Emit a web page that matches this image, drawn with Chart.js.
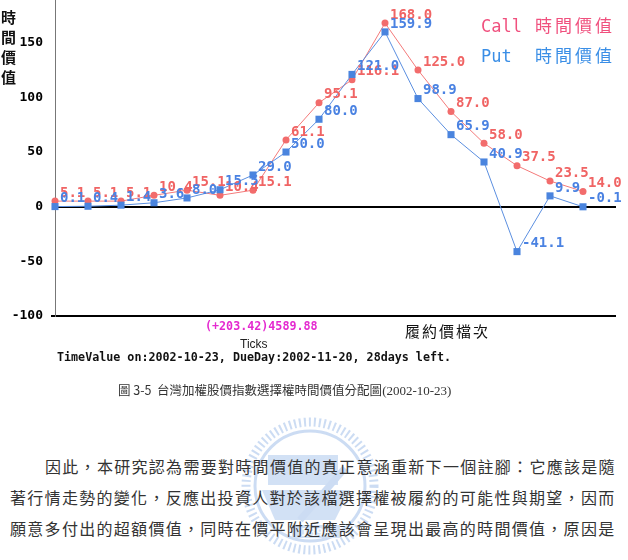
<!DOCTYPE html>
<html lang="zh-Hant">
<head>
    <meta charset="UTF-8">
    <title>時間價值分配圖</title>
    <script src="https://cdn.jsdelivr.net/npm/chart.js"></script>
    <style>
        body { margin: 0; background: #fff; width: 628px; height: 560px; position: relative; overflow: hidden; font-family: "Noto Sans CJK TC", "DejaVu Sans", sans-serif; }
        .abs { position: absolute; white-space: nowrap; line-height: 1; }
        #chartBox { position: absolute; left: 0; top: -6px; width: 628px; height: 327px; }
        .mono { font-family: "DejaVu Sans Mono", monospace; font-weight: bold; }
        .para { font-size: 16px; letter-spacing: 1.3px; color: #333; }
    </style>
</head>
<body>
    <svg class="abs" style="left:0;top:0" width="628" height="560">
        <g opacity="0.45" fill="none" stroke="#8fb3e6">
            <circle cx="310" cy="486" r="64" stroke-width="9" stroke-dasharray="2 3"/>
            <circle cx="310" cy="486" r="55" stroke-width="3"/>
            <rect x="268" y="455" width="70" height="30" fill="#9dbde9" stroke="none"/>
            <path d="M262 490 L350 490 L335 520 L275 520 Z" fill="#9dbde9" stroke="none"/>
            <path d="M300 520 L345 468" stroke-width="7"/>
            <rect x="292" y="525" width="48" height="13" fill="#9dbde9" stroke="none"/>
        </g>
        <text x="316" y="536" font-family="DejaVu Sans" font-weight="bold" font-size="11" fill="#fff" text-anchor="middle" opacity="0.9">1896</text>
    </svg>

    <div id="chartBox"><canvas id="tvChart"></canvas></div>

    <div class="abs" style="left:1px;top:7px;font-size:15px;line-height:20px;white-space:normal;width:16px;color:#111;font-weight:bold">時間價值</div>

    <div class="abs" style="left:481px;top:16px;font-size:17px;color:#f0507e"><span style="font-family:'DejaVu Sans Mono',monospace">Call</span><span style="margin-left:13px;letter-spacing:3px">時間價值</span></div>
    <div class="abs" style="left:481px;top:46px;font-size:17px;color:#3a8ee6"><span style="font-family:'DejaVu Sans Mono',monospace">Put </span><span style="margin-left:13px;letter-spacing:3px">時間價值</span></div>

    <div class="abs mono" style="left:205px;top:321px;font-size:11.7px;color:#e42ad0">(+203.42)4589.88</div>
    <div class="abs" style="left:240px;top:338px;font-size:12px;font-family:'Liberation Sans',sans-serif;color:#222">Ticks</div>
    <div class="abs" style="left:405px;top:323px;font-size:15px;letter-spacing:2px;color:#111">履約價檔次</div>
    <div class="abs mono" style="left:57px;top:352px;font-size:11.7px;color:#111">TimeValue on:2002-10-23, DueDay:2002-11-20, 28days left.</div>

    <div class="abs" style="left:118px;top:384px;font-size:12.5px;color:#333">圖 3-5&nbsp; 台灣加權股價指數選擇權時間價值分配圖<span style="font-family:'Liberation Serif',serif;font-size:13px">(2002-10-23)</span></div>

    <div class="abs para" style="left:45px;top:458px">因此，本研究認為需要對時間價值的真正意涵重新下一個註腳：它應該是隨</div>
    <div class="abs para" style="left:10px;top:489px">著行情走勢的變化，反應出投資人對於該檔選擇權被履約的可能性與期望，因而</div>
    <div class="abs para" style="left:10px;top:520px">願意多付出的超額價值，同時在價平附近應該會呈現出最高的時間價值，原因是</div>

    <script>
        // strike steps (hidden on the axis), last one is just room on the right
        const strikeSteps = ['1','2','3','4','5','6','7','8','9','10','11','12','13','14','15','16','17','18'];
        const callValues = [5.1, 5.1, 5.1, 10.4, 15.1, 10.4, 15.1, 61.1, 95.1, 116.1, 168.0, 125.0, 87.0, 58.0, 37.5, 23.5, 14.0, null];
        const putValues  = [0.1, 0.4, 1.4, 3.6, 8.0, 15.5, 29.0, 50.0, 80.0, 121.0, 159.9, 98.9, 65.9, 40.9, -41.1, 9.9, -0.1, null];
        const yTicks = [-100, -50, 0, 50, 100, 150];

        const callColor = '#f26c6c';
        const putColor = '#4a84de';

        // value labels next to each point
        const pointLabels = {
            id: 'pointLabels',
            afterDatasetsDraw(chart) {
                const ctx = chart.ctx;
                ctx.save();
                ctx.font = 'bold 14px "DejaVu Sans Mono", monospace';
                ctx.textAlign = 'left';
                ctx.textBaseline = 'middle';
                [1, 0].forEach(function(di) {
                    const ds = chart.data.datasets[di];
                    const meta = chart.getDatasetMeta(di);
                    ctx.fillStyle = ds.labelColor;
                    meta.data.forEach(function(pt, i) {
                        const v = ds.data[i];
                        if (v === null) return;
                        ctx.fillText(v.toFixed(1), pt.x + 5, pt.y - 8);
                    });
                });
                ctx.restore();
            }
        };

        let ctx = document.getElementById('tvChart').getContext('2d');
        new Chart(ctx, {
            type: 'line',
            data: {
                labels: strikeSteps,
                datasets: [
                    { label: 'Put', data: putValues, borderColor: '#5b8fe0', backgroundColor: putColor, labelColor: '#4a82e2',
                      borderWidth: 1, pointStyle: 'rect', pointRadius: 5, pointBorderWidth: 0, order: 0, tension: 0 },
                    { label: 'Call', data: callValues, borderColor: '#f47a7a', backgroundColor: callColor, labelColor: '#f06464',
                      borderWidth: 1, pointStyle: 'circle', pointRadius: 3.5, pointBorderWidth: 0, order: 1, tension: 0 }
                ]
            },
            options: {
                responsive: true,
                maintainAspectRatio: false,
                animation: false,
                layout: { padding: { top: 0, right: 12, bottom: 0, left: 0 } },
                plugins: { legend: { display: false }, tooltip: { enabled: false } },
                scales: {
                    x: { display: false, offset: false },
                    y: {
                        min: -100, max: 190,
                        afterBuildTicks: function(scale) {
                            scale.ticks = yTicks.map(function(v) { return { value: v }; });
                        },
                        afterFit: function(scale) {
                            scale.width = 55;
                            scale.paddingTop = 0;
                            scale.paddingBottom = 0;
                        },
                        border: { display: true, color: '#777', width: 1 },
                        grid: {
                            color: function(c) { return (c.tick && (c.tick.value === 0 || c.tick.value === -100)) ? '#000' : 'rgba(0,0,0,0)'; },
                            lineWidth: 2,
                            drawTicks: true,
                            tickLength: 4,
                            tickColor: function(c) { return (c.tick && c.tick.value === -100) ? '#000' : 'rgba(0,0,0,0)'; }
                        },
                        ticks: {
                            padding: 8,
                            color: '#000',
                            font: { family: 'DejaVu Sans Mono', weight: 'bold', size: 13 }
                        }
                    }
                }
            },
            plugins: [pointLabels]
        });
    </script>
</body>
</html>
